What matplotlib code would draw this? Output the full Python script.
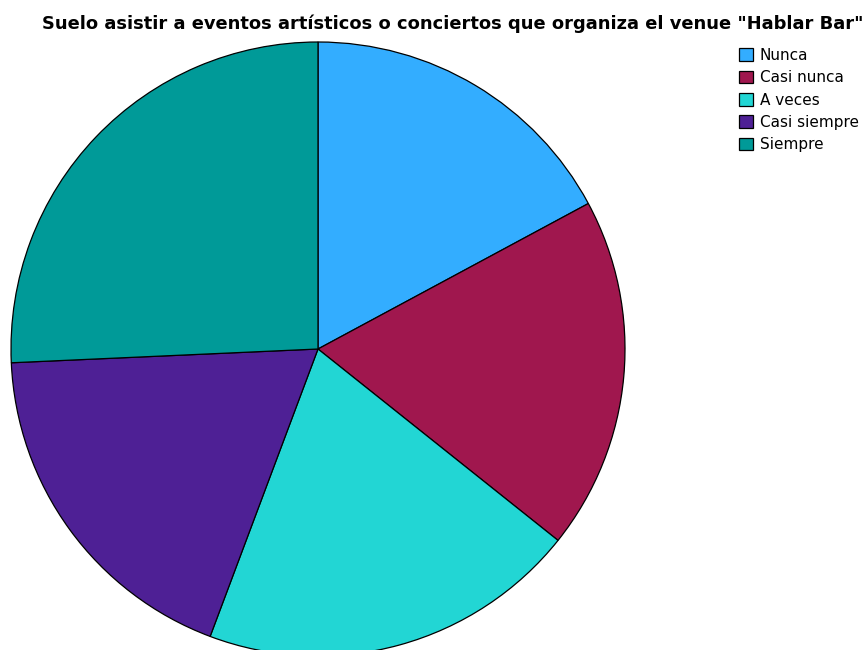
import matplotlib
matplotlib.use("Agg")
import matplotlib.pyplot as plt
from matplotlib.patches import Patch

plt.rcParams['font.family'] = ['DejaVu Sans']

categories = ["Nunca", "Casi nunca", "A veces", "Casi siempre", "Siempre"]
counts = [12, 13, 14, 13, 18]
colors = ["#33adff", "#a0174e", "#22d6d4", "#4e2095", "#009a98"]
title = 'Suelo asistir a eventos artísticos o conciertos que organiza el venue "Hablar Bar"'

W, H = 867, 650
fig = plt.figure(figsize=(W / 100, H / 100), dpi=100)
fig.patch.set_facecolor("white")

# pie centred at (318, 349) px with radius 307 px
cx, cy, r = 318, 349, 307
ax = fig.add_axes([(cx - r) / W, (H - cy - r) / H, 2 * r / W, 2 * r / H])
ax.pie(counts, colors=colors, startangle=90, counterclock=False, radius=1,
       wedgeprops=dict(edgecolor="black", linewidth=0.9))
ax.set_xlim(-1, 1)
ax.set_ylim(-1, 1)
ax.set_aspect("equal")
ax.axis("off")

fig.text(453 / W, 1 - 24 / H, title, ha="center", va="center",
         fontsize=12.85, fontweight="bold")

handles = [Patch(facecolor=c, edgecolor="black", linewidth=0.9) for c in colors]
fig.legend(handles, categories, loc="upper left",
           bbox_to_anchor=(739 / W, 1 - 48 / H), frameon=False,
           fontsize=11, handlelength=0.9, handleheight=0.9,
           handletextpad=0.45, labelspacing=0.48, borderaxespad=0,
           borderpad=0)

fig.savefig("out.png", dpi=100)
